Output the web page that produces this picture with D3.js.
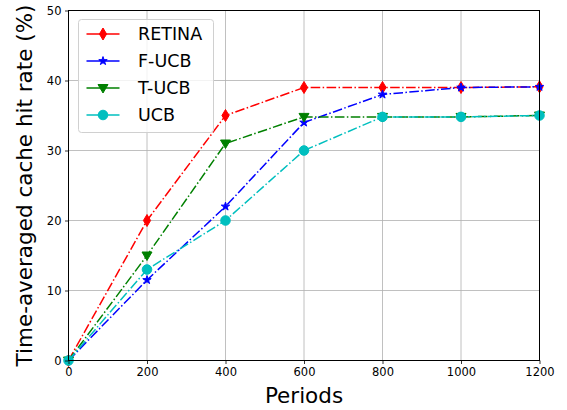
<!DOCTYPE html>
<html><head><meta charset="utf-8">
<script src="https://cdn.jsdelivr.net/npm/d3@7"></script>
<style>body{margin:0;background:#fff}svg{display:block}text{font-family:"DejaVu Sans",sans-serif}</style>
</head><body>
<svg id="c" width="567" height="410"></svg>
<script>
const periods = [0, 200, 400, 600, 800, 1000, 1200];
const retina = [0, 20, 35, 39, 39, 39, 39.1];
const fucb = [0, 11.5, 22, 34, 38, 39, 39.1];
const tucb = [0, 15, 31, 34.8, 34.8, 34.8, 35];
const ucb = [0, 13, 20, 30, 34.8, 34.8, 35];
const seriesNames = ["RETINA", "F-UCB", "T-UCB", "UCB"];
const xTicks = [0, 200, 400, 600, 800, 1000, 1200];
const yTicks = [0, 10, 20, 30, 40, 50];

const series = [
  {name: seriesNames[0], values: retina, color: "#ff0000", marker: "diamond"},
  {name: seriesNames[1], values: fucb, color: "#0000ff", marker: "star"},
  {name: seriesNames[2], values: tucb, color: "#008000", marker: "tri"},
  {name: seriesNames[3], values: ucb, color: "#00bfbf", marker: "circle"}
];

const svg = d3.select("#c");
const L = 68.5, R = 539.5, T = 10.5, B = 360.5;
const x = d3.scaleLinear().domain([0, 1200]).range([L, R]);
const y = d3.scaleLinear().domain([0, 50]).range([B, T]);

// grid
svg.append("g").selectAll("line").data(xTicks).join("line")
  .attr("x1", d => x(d)).attr("x2", d => x(d)).attr("y1", T).attr("y2", B)
  .attr("stroke", "#b0b0b0").attr("stroke-width", 0.8);
svg.append("g").selectAll("line").data(yTicks).join("line")
  .attr("y1", d => y(d)).attr("y2", d => y(d)).attr("x1", L).attr("x2", R)
  .attr("stroke", "#b0b0b0").attr("stroke-width", 0.8);

function markerPath(type) {
  if (type === "diamond") return "M0,-6 L3.6,0 L0,6 L-3.6,0 Z";
  if (type === "star") return d3.symbol(d3.symbolStar, 22)();
  if (type === "tri") return "M-5,-3.5 L5,-3.5 L0,5 Z";
  return d3.symbol(d3.symbolCircle, 72)();
}

const line = d3.line().x((d, i) => x(periods[i])).y(d => y(d));
const plot = svg.append("g");
series.forEach(s => {
  plot.append("path").datum(s.values).attr("d", line)
    .attr("fill", "none").attr("stroke", s.color).attr("stroke-width", 1.5)
    .attr("stroke-dasharray", "9.6,2.4,1.5,2.4");
  plot.append("g").selectAll("path").data(s.values).join("path")
    .attr("d", markerPath(s.marker))
    .attr("transform", (d, i) => `translate(${x(periods[i])},${y(d)})`)
    .attr("fill", s.color).attr("stroke", s.color).attr("stroke-width", 1);
});

// axes
const xAxis = svg.append("g").attr("transform", `translate(0,${B})`)
  .call(d3.axisBottom(x).tickValues(xTicks).tickSize(3.5).tickPadding(3.5).tickFormat(d3.format("d")));
const yAxis = svg.append("g").attr("transform", `translate(${L},0)`)
  .call(d3.axisLeft(y).tickValues(yTicks).tickSize(3.5).tickPadding(3.5));
[xAxis, yAxis].forEach(a => {
  a.select(".domain").remove();
  a.selectAll("text").attr("font-size", 11.5).attr("fill", "#000").style("font-family", "DejaVu Sans");
  a.selectAll("line").attr("stroke", "#000").attr("stroke-width", 0.8);
});
svg.append("rect").attr("x", L).attr("y", T).attr("width", R - L).attr("height", B - T)
  .attr("fill", "none").attr("stroke", "#000").attr("stroke-width", 1);

svg.append("text").attr("x", (L + R) / 2).attr("y", 403).attr("text-anchor", "middle")
  .attr("font-size", 21.5).text("Periods");
svg.append("text").attr("transform", `translate(31.5,${(T + B) / 2}) rotate(-90)`)
  .attr("text-anchor", "middle").attr("font-size", 21.5).text("Time-averaged cache hit rate (%)");

// legend
const lg = svg.append("g").attr("transform", "translate(78.5,19.5)");
lg.append("rect").attr("width", 135).attr("height", 113).attr("rx", 3)
  .attr("fill", "#fff").attr("fill-opacity", 0.8).attr("stroke", "#d0d0d0").attr("stroke-width", 1);
series.forEach((s, i) => {
  const yy = 14.5 + i * 27;
  lg.append("line").attr("x1", 8).attr("x2", 41).attr("y1", yy).attr("y2", yy)
    .attr("stroke", s.color).attr("stroke-width", 1.5);
  lg.append("path").attr("d", markerPath(s.marker)).attr("transform", `translate(24.5,${yy})`)
    .attr("fill", s.color).attr("stroke", s.color).attr("stroke-width", 1);
  lg.append("text").attr("x", 59.5).attr("y", yy).attr("dy", "0.36em")
    .attr("font-size", 17.5).text(s.name);
});
</script>
</body></html>
